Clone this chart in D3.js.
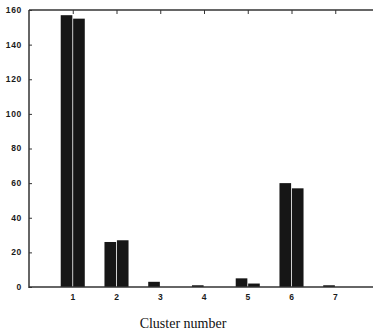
<!DOCTYPE html>
<html><head><meta charset="utf-8">
<script src="https://cdn.jsdelivr.net/npm/d3@7"></script>
<style>body{margin:0;background:#fff}svg{display:block}</style>
</head><body>
<script>
const clusters = [1, 2, 3, 4, 5, 6, 7];
const seriesA = [157, 26, 3, 1, 5, 60, 1];
const seriesB = [155, 27, 0, 0, 2, 57, 0];
const yTicks = [0, 20, 40, 60, 80, 100, 120, 140, 160];
const xLabel = "Cluster number";

(function () {
const W = 373, H = 333;
const svg = d3.select("body").append("svg").attr("width", W).attr("height", H);
const L = 29, R = 379, T = 10, B = 287;
const x = d3.scaleLinear().domain([0, 8]).range([L, R]);
const y = d3.scaleLinear().domain([0, 160]).range([B, T]);
const bw = 0.275;
const ink = "#161616";

const g = svg.append("g");
const data = clusters.map((c, i) => ({c, a: seriesA[i], b: seriesB[i]}));
g.selectAll("rect.a").data(data).join("rect").attr("class", "a")
  .attr("x", d => x(d.c - bw)).attr("width", d => x(d.c) - x(d.c - bw) - 0.4)
  .attr("y", d => y(d.a)).attr("height", d => y(0) - y(d.a)).attr("fill", ink);
g.selectAll("rect.b").data(data).join("rect").attr("class", "b")
  .attr("x", d => x(d.c) + 0.4).attr("width", d => x(d.c + bw) - x(d.c) - 0.4)
  .attr("y", d => y(d.b)).attr("height", d => y(0) - y(d.b)).attr("fill", ink);

const axisColor = "#333";
const yAxis = svg.append("g").attr("transform", `translate(${L},0)`)
  .call(d3.axisRight(y).tickValues(yTicks).tickSize(3).tickFormat(""));
yAxis.select(".domain").remove();
yAxis.selectAll("line").attr("stroke", axisColor);
svg.append("g").selectAll("text").data(yTicks).join("text")
  .attr("x", 22).attr("y", d => y(d)).attr("dy", "0.35em")
  .attr("text-anchor", "end")
  .style("font", "bold 8.5px 'Liberation Sans', Arial, sans-serif")
  .style("letter-spacing", "0.7px")
  .attr("fill", "#1a1a1a").text(d => d);

const topAxis = svg.append("g").attr("transform", `translate(0,${T})`)
  .call(d3.axisBottom(x).tickValues(clusters).tickSize(4).tickFormat(""));
topAxis.select(".domain").remove();
topAxis.selectAll("line").attr("stroke", axisColor);

svg.append("g").selectAll("text").data(clusters).join("text")
  .attr("x", d => x(d)).attr("y", 300)
  .attr("text-anchor", "middle")
  .style("font", "bold 8.5px 'Liberation Sans', Arial, sans-serif")
  .attr("fill", "#1a1a1a").text(d => d);

svg.append("line").attr("x1", L).attr("x2", L).attr("y1", T).attr("y2", B + 1).attr("stroke", axisColor).attr("stroke-width", 1.5);
svg.append("line").attr("x1", L).attr("x2", W).attr("y1", T).attr("y2", T).attr("stroke", axisColor).attr("stroke-width", 1.5);
svg.append("line").attr("x1", L).attr("x2", W).attr("y1", B).attr("y2", B).attr("stroke", axisColor).attr("stroke-width", 1.5);

svg.append("text").attr("x", 183).attr("y", 328).attr("text-anchor", "middle")
  .style("font", "14px 'Liberation Serif', 'Times New Roman', serif")
  .attr("fill", "#111").text(xLabel);
})();
</script>
</body></html>
